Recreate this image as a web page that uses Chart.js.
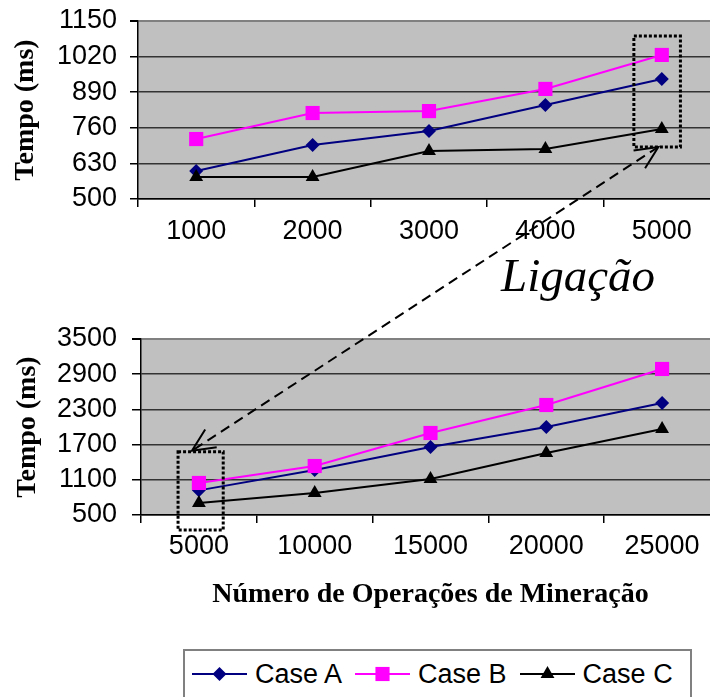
<!DOCTYPE html>
<html>
<head>
<meta charset="utf-8">
<script src="https://cdn.jsdelivr.net/npm/chart.js@4"></script>
<style>
html, body { margin: 0; padding: 0; width: 710px; height: 697px; overflow: hidden; background: #fff; }
#topChart { position: absolute; left: 0; top: 0; }
#bottomChart { position: absolute; left: 0; top: 320px; }
#overlay { position: absolute; left: 0; top: 0; pointer-events: none; }
#ligacao { position: absolute; left: 501px; top: 252px; font: italic 47px 'Liberation Serif'; line-height: 1; color: #000; }
#legend { position: absolute; left: 183px; top: 649px; width: 509px; height: 48px; border: 2px solid #808080; border-bottom: none;
  box-sizing: border-box; display: flex; align-items: center; padding-left: 7px; }
#legend .item { display: flex; align-items: center; margin-right: 13px; }
#legend canvas { margin-right: 8px; }
#legend span { font: 27px 'Liberation Sans'; line-height: 30px; color: #000; }
</style>
</head>
<body>
<canvas id="topChart" width="730" height="260"></canvas>
<canvas id="bottomChart" width="730" height="300"></canvas>
<div id="ligacao">Ligação</div>
<div id="legend"></div>
<canvas id="overlay" width="710" height="697"></canvas>
<script>
// top chart: Ligação, 1000..5000 operations
const topLabels = ['1000', '2000', '3000', '4000', '5000'];
const topCaseA = [602, 697, 748, 843, 938];
const topCaseB = [719, 814, 821, 902, 1026];
const topCaseC = [580, 580, 675, 683, 756];
const topYTicks = [500, 630, 760, 890, 1020, 1150];

// bottom chart: 5000..25000 operations
const bottomLabels = ['5000', '10000', '15000', '20000', '25000'];
const bottomCaseA = [920, 1267, 1659, 2000, 2410];
const bottomCaseB = [1046, 1335, 1898, 2375, 2989];
const bottomCaseC = [705, 875, 1114, 1557, 1966];
const bottomYTicks = [500, 1100, 1700, 2300, 2900, 3500];

const seriesNames = ['Case A', 'Case B', 'Case C'];

// annotation: zoom boxes and arrow, in category index / value units
const topBoxX = [3.76, 4.16], topBoxY = [690, 1095];
const bottomBoxX = [-0.18, 0.21], bottomBoxY = [244, 1579];
const arrowTop = [3.97, 690];
const arrowBottom = [-0.06, 1596];

const seriesStyle = [
    { color: '#000080', pointStyle: 'rectRot', radius: 7 },
    { color: '#FF00FF', pointStyle: 'rect', radius: 10 },
    { color: '#000000', pointStyle: 'triangle', radius: 8 }
];

Chart.defaults.font.family = "'Liberation Sans', Arial, sans-serif";
Chart.defaults.color = '#000';

const plotBg = {
    id: 'plotBg',
    beforeDraw(chart) {
        const { ctx, chartArea: a } = chart;
        ctx.save();
        ctx.fillStyle = '#C0C0C0';
        ctx.fillRect(a.left, a.top, a.right - a.left, a.bottom - a.top);
        ctx.restore();
    }
};

function buildChart(id, labels, series, yTicks, o) {
    const top = yTicks[yTicks.length - 1];
    const chart = new Chart(document.getElementById(id), {
        type: 'line',
        data: {
            labels: labels,
            datasets: series.map((d, i) => ({
                label: seriesNames[i],
                data: d,
                borderColor: seriesStyle[i].color,
                backgroundColor: seriesStyle[i].color,
                borderWidth: 2,
                pointStyle: seriesStyle[i].pointStyle,
                pointRadius: seriesStyle[i].radius,
                pointHoverRadius: seriesStyle[i].radius,
                pointBorderWidth: 0,
                tension: 0,
                fill: false,
                order: 3 - i
            }))
        },
        options: {
            responsive: false,
            animation: false,
            devicePixelRatio: 1,
            events: [],
            layout: { padding: { top: o.top, left: 0, right: 0, bottom: 0 } },
            plugins: { legend: { display: false }, tooltip: { enabled: false } },
            scales: {
                x: {
                    offset: true,
                    afterFit: s => { s.height = o.xHeight; },
                    grid: { offset: true, drawOnChartArea: false, tickLength: 8, color: '#000', lineWidth: 1.5 },
                    border: { color: '#000', width: 1.5 },
                    ticks: { font: { size: 27 }, padding: o.xPad, maxRotation: 0, autoSkip: false },
                    title: {
                        display: !!o.xTitle,
                        text: o.xTitle || '',
                        font: { family: "'Liberation Serif', serif", weight: 'bold', size: 28 },
                        padding: { top: 0, bottom: 8 }
                    }
                },
                y: {
                    min: yTicks[0],
                    max: top,
                    afterBuildTicks: s => { s.ticks = yTicks.map(v => ({ value: v })); },
                    afterFit: s => { s.width = o.yWidth; s.paddingTop = 0; s.paddingBottom = 0; },
                    grid: {
                        color: c => (c.tick && c.tick.value === top) ? '#808080' : '#333',
                        lineWidth: c => (c.tick && c.tick.value === top) ? 2 : 1.5,
                        tickColor: '#000',
                        tickLength: o.yTick
                    },
                    border: { color: '#000', width: 1.5 },
                    ticks: { font: { size: 27 }, padding: o.yPad, autoSkip: false, callback: v => String(v) },
                    title: {
                        display: true,
                        text: 'Tempo (ms)',
                        font: { family: "'Liberation Serif', serif", weight: 'bold', size: 28 },
                        padding: { top: o.yTitlePad, bottom: 0 }
                    }
                }
            }
        },
        plugins: [plotBg]
    });
    // plot area runs a little past the right edge of the window, as in the original
    const diff = o.right - chart.chartArea.right;
    if (Math.abs(diff) > 0.5) {
        chart.options.layout.padding.right -= diff;
        chart.update();
    }
    return chart;
}

const topChart = buildChart('topChart', topLabels, [topCaseA, topCaseB, topCaseC], topYTicks,
    { top: 21, right: 719, xHeight: 61, xPad: 8, yWidth: 138, yTick: 8, yPad: 13, yTitlePad: 9 });
const bottomChart = buildChart('bottomChart', bottomLabels, [bottomCaseA, bottomCaseB, bottomCaseC], bottomYTicks,
    { top: 19, right: 719, xHeight: 105, xPad: 7, yWidth: 141, yTick: 9, yPad: 15, yTitlePad: 11,
      xTitle: 'Número de Operações de Mineração' });

// legend
function drawMarker(ctx, st, x, y) {
    ctx.fillStyle = st.color;
    ctx.beginPath();
    const r = st.radius;
    if (st.pointStyle === 'rect') {
        const s = r * Math.SQRT1_2;
        ctx.rect(x - s, y - s, 2 * s, 2 * s);
    } else if (st.pointStyle === 'rectRot') {
        ctx.moveTo(x - r, y); ctx.lineTo(x, y - r); ctx.lineTo(x + r, y); ctx.lineTo(x, y + r);
        ctx.closePath();
    } else {
        ctx.moveTo(x, y - r);
        ctx.lineTo(x + r * 0.866, y + r / 2);
        ctx.lineTo(x - r * 0.866, y + r / 2);
        ctx.closePath();
    }
    ctx.fill();
}

const legend = document.getElementById('legend');
seriesNames.forEach((name, i) => {
    const item = document.createElement('div');
    item.className = 'item';
    const c = document.createElement('canvas');
    c.width = 55; c.height = 30;
    const cx = c.getContext('2d');
    cx.strokeStyle = seriesStyle[i].color;
    cx.lineWidth = 2;
    cx.beginPath(); cx.moveTo(0, 15); cx.lineTo(55, 15); cx.stroke();
    drawMarker(cx, seriesStyle[i], 27.5, 15);
    const sp = document.createElement('span');
    sp.textContent = name;
    item.appendChild(c);
    item.appendChild(sp);
    legend.appendChild(item);
});

// overlay: dotted boxes and double arrow
const ov = document.getElementById('overlay').getContext('2d');
const bottomOffset = 320;

function box(ch, off, bx, by) {
    const x0 = ch.scales.x.getPixelForValue(bx[0]), x1 = ch.scales.x.getPixelForValue(bx[1]);
    const y0 = ch.scales.y.getPixelForValue(by[1]) + off, y1 = ch.scales.y.getPixelForValue(by[0]) + off;
    ov.strokeRect(x0, y0, x1 - x0, y1 - y0);
}

function head(tip, from) {
    const ang = Math.atan2(from.y - tip.y, from.x - tip.x);
    const len = 25, spread = 25 * Math.PI / 180;
    ov.beginPath();
    ov.moveTo(tip.x + len * Math.cos(ang + spread), tip.y + len * Math.sin(ang + spread));
    ov.lineTo(tip.x, tip.y);
    ov.lineTo(tip.x + len * Math.cos(ang - spread), tip.y + len * Math.sin(ang - spread));
    ov.stroke();
}

ov.strokeStyle = '#000';
ov.lineWidth = 3;
ov.setLineDash([3, 2]);
box(topChart, 0, topBoxX, topBoxY);
box(bottomChart, bottomOffset, bottomBoxX, bottomBoxY);

const pA = { x: topChart.scales.x.getPixelForValue(arrowTop[0]), y: topChart.scales.y.getPixelForValue(arrowTop[1]) };
const pB = { x: bottomChart.scales.x.getPixelForValue(arrowBottom[0]), y: bottomChart.scales.y.getPixelForValue(arrowBottom[1]) + bottomOffset };
ov.lineWidth = 2;
ov.setLineDash([10, 6]);
ov.beginPath(); ov.moveTo(pA.x, pA.y); ov.lineTo(pB.x, pB.y); ov.stroke();
ov.setLineDash([]);
head(pA, pB);
head(pB, pA);
</script>
</body>
</html>
